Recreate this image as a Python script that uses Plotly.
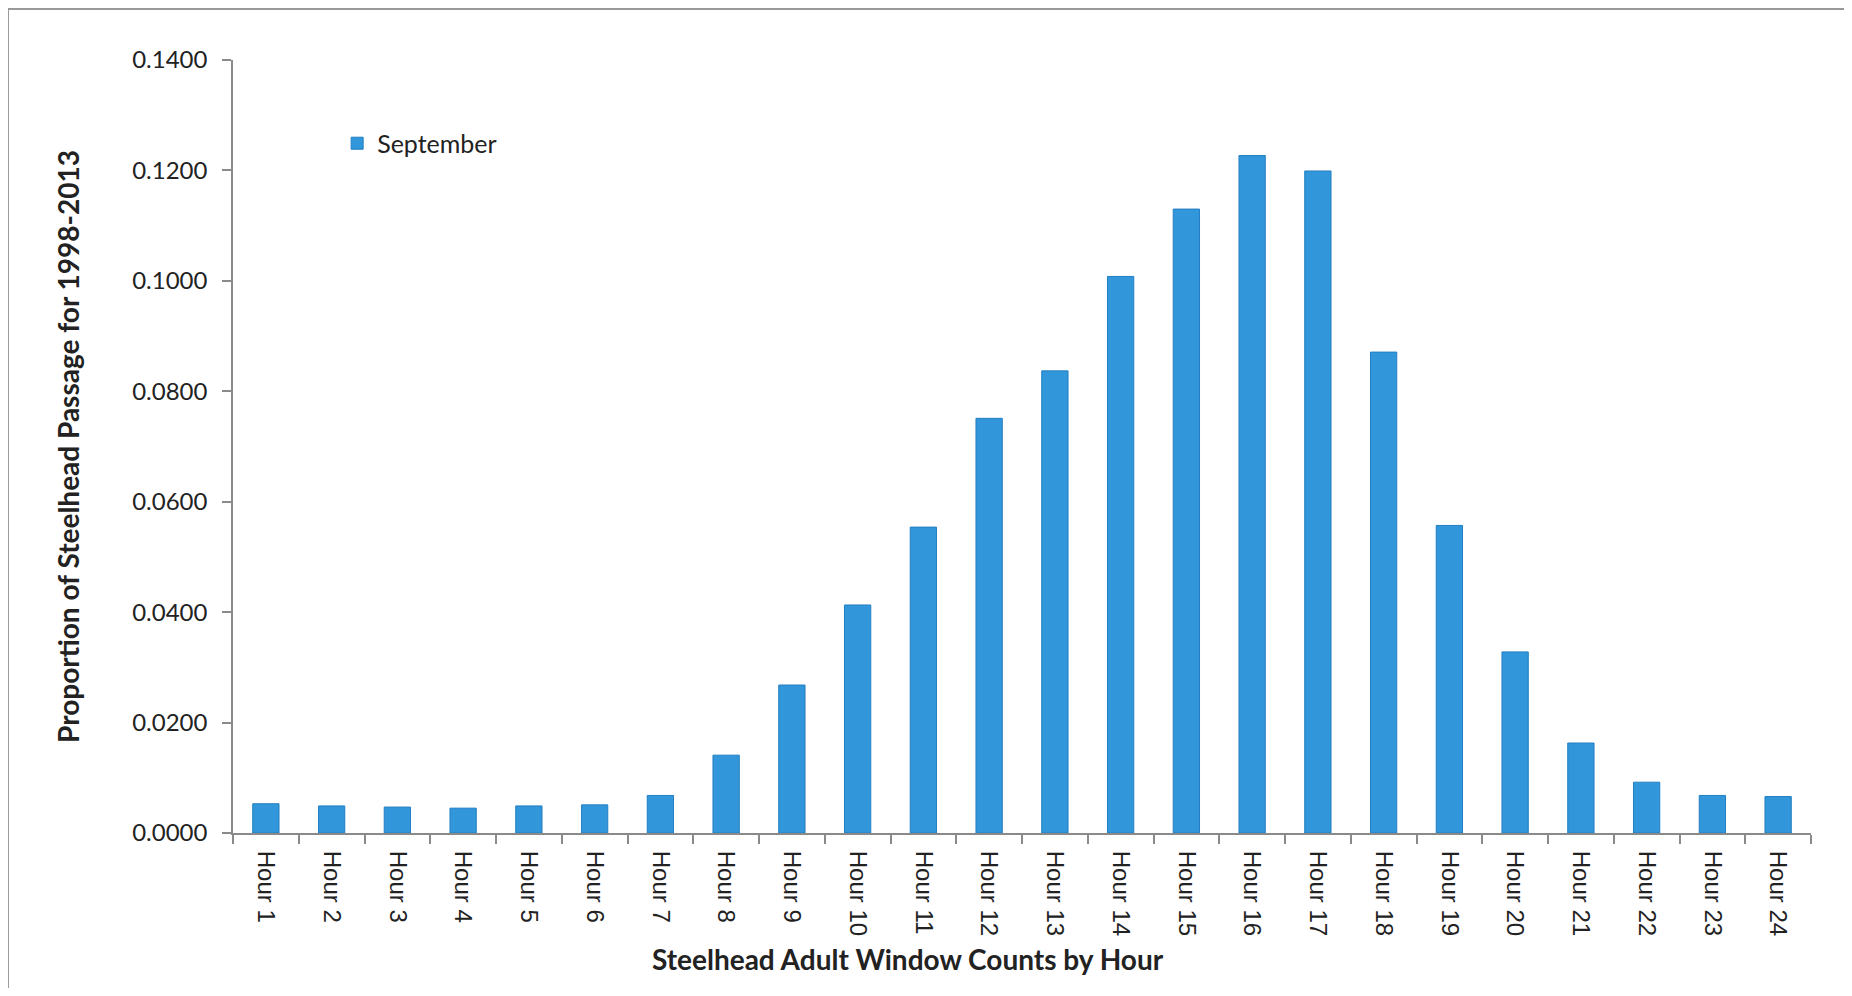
import plotly.graph_objects as go

hours = [f"Hour {i}" for i in range(1, 25)]
september = [0.0053, 0.0049, 0.0047, 0.0045, 0.0049, 0.0051, 0.0068, 0.0141,
             0.0268, 0.0413, 0.0554, 0.0751, 0.0837, 0.1008, 0.1130, 0.1227,
             0.1199, 0.0871, 0.0557, 0.0328, 0.0163, 0.0092, 0.0068, 0.0066]
y_ticks = [0.0, 0.02, 0.04, 0.06, 0.08, 0.10, 0.12, 0.14]
y_tick_labels = [f"{v:.4f}" for v in y_ticks]

fig = go.Figure()
fig.add_trace(go.Bar(
    x=hours, y=september, name="September",
    marker=dict(color="#3196DA", line=dict(color="#237FC2", width=1)),
    showlegend=True,
))

axis_color = "#8a8a8a"
fig.update_layout(
    width=1836, height=980,
    margin=dict(l=225, r=33, t=52, b=155),
    paper_bgcolor="white", plot_bgcolor="white",
    bargap=0.6,
    showlegend=True,
    legend=dict(x=0.066, y=0.892, xanchor="left", yanchor="middle",
                font=dict(family="Lato", size=25, color="#222"),
                bgcolor="rgba(0,0,0,0)", itemwidth=30),
    xaxis=dict(
        type="category", tickangle=90,
        showline=True, linecolor=axis_color, linewidth=2,
        ticks="outside", ticklen=9, tickcolor=axis_color, tickwidth=1.5,
        tickson="boundaries", ticklabelstandoff=11,
        tickfont=dict(family="Liberation Sans", size=24, color="#222"),
        showgrid=False, zeroline=False,
    ),
    yaxis=dict(
        range=[0, 0.14], tickvals=y_ticks, ticktext=y_tick_labels,
        showline=True, linecolor=axis_color, linewidth=1.5,
        ticks="outside", ticklen=9, tickcolor=axis_color, tickwidth=1.5,
        ticklabelstandoff=10,
        tickfont=dict(family="Lato", size=24, color="#222"),
        title=dict(text="<b>Proportion of Steelhead Passage for 1998-2013</b>",
                   font=dict(family="Lato", size=28, color="#222"), standoff=44),
        showgrid=False, zeroline=False,
    ),
    annotations=[dict(text="<b>Steelhead Adult Window Counts by Hour</b>",
                      xref="paper", yref="paper", x=0.428, y=-0.163,
                      xanchor="center", yanchor="middle", showarrow=False,
                      font=dict(family="Lato", size=28, color="#222"))],
    shapes=[dict(type="rect", xref="paper", yref="paper",
                 x0=-0.1426, x1=1.2, y0=-0.4, y1=1.066,
                 line=dict(color="#999999", width=2), layer="below")],
)

fig.write_html("out.html")
